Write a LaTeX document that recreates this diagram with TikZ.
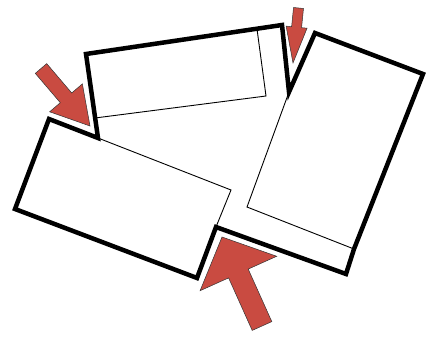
\documentclass[tikz,border=0pt]{standalone}
\usetikzlibrary{calc}
\definecolor{arrowred}{RGB}{201,75,65}
\tikzset{
  outline/.style={line width=4.5pt, line join=miter, black},
  hidden/.style={line width=0.9pt, black},
  arrowfill/.style={fill=arrowred, draw=black!80, line width=0.5pt, line join=miter}
}
\newcommand\redarrow[5]{% tail, tip, shaft half width, head half width, head length (pt)
  \coordinate (hb) at ($(#2)!#5pt!(#1)$);
  \draw[arrowfill] ($(#1)!#3pt!90:(#2)$) -- ($(hb)!#3pt!-90:(#1)$) -- ($(hb)!#4pt!-90:(#1)$)
    -- (#2) -- ($(hb)!#4pt!90:(#1)$) -- ($(hb)!#3pt!90:(#1)$) -- ($(#1)!#3pt!-90:(#2)$) -- cycle;
}
\begin{document}
\begin{tikzpicture}[x=1pt,y=-1pt]
\useasboundingbox (0,0) rectangle (427,340);
% outer outline corners
\coordinate (A) at (86,54);
\coordinate (B) at (282,25);
\coordinate (C) at (289,92);
\coordinate (D) at (315,33);
\coordinate (E) at (423,74);
\coordinate (F) at (354,249);
\coordinate (G) at (346,274);
\coordinate (H) at (216,227);
\coordinate (I) at (197,278);
\coordinate (J) at (15,209);
\coordinate (K) at (49,119);
\coordinate (L) at (98,138);
% hidden edges
\coordinate (P1) at (95,118);
\coordinate (P2) at (266,96);
\coordinate (P3) at (257,29);
\coordinate (M) at (231,190);
\coordinate (Q) at (247,207);

\draw[hidden] (P1) -- (P2) -- (P3);
\draw[hidden] (L) -- (M) -- (H);
\draw[hidden] (C) -- (Q) -- (F);

\draw[outline] (A) -- (B) -- (C) -- (D) -- (E) -- (F) -- (G) -- (H) -- (I) -- (J) -- (K) -- (L) -- cycle;

% arrows
\coordinate (t1) at (41,68.5);  \coordinate (h1) at (90,126);
\coordinate (t2) at (298.5,8);  \coordinate (h2) at (293,63);
\coordinate (t3) at (262,326);  \coordinate (h3) at (222,237);
\redarrow{t1}{h1}{7.5}{21.5}{37}
\redarrow{t2}{h2}{5}{10.5}{36}
\redarrow{t3}{h3}{10.75}{42}{40}
\end{tikzpicture}
\end{document}
